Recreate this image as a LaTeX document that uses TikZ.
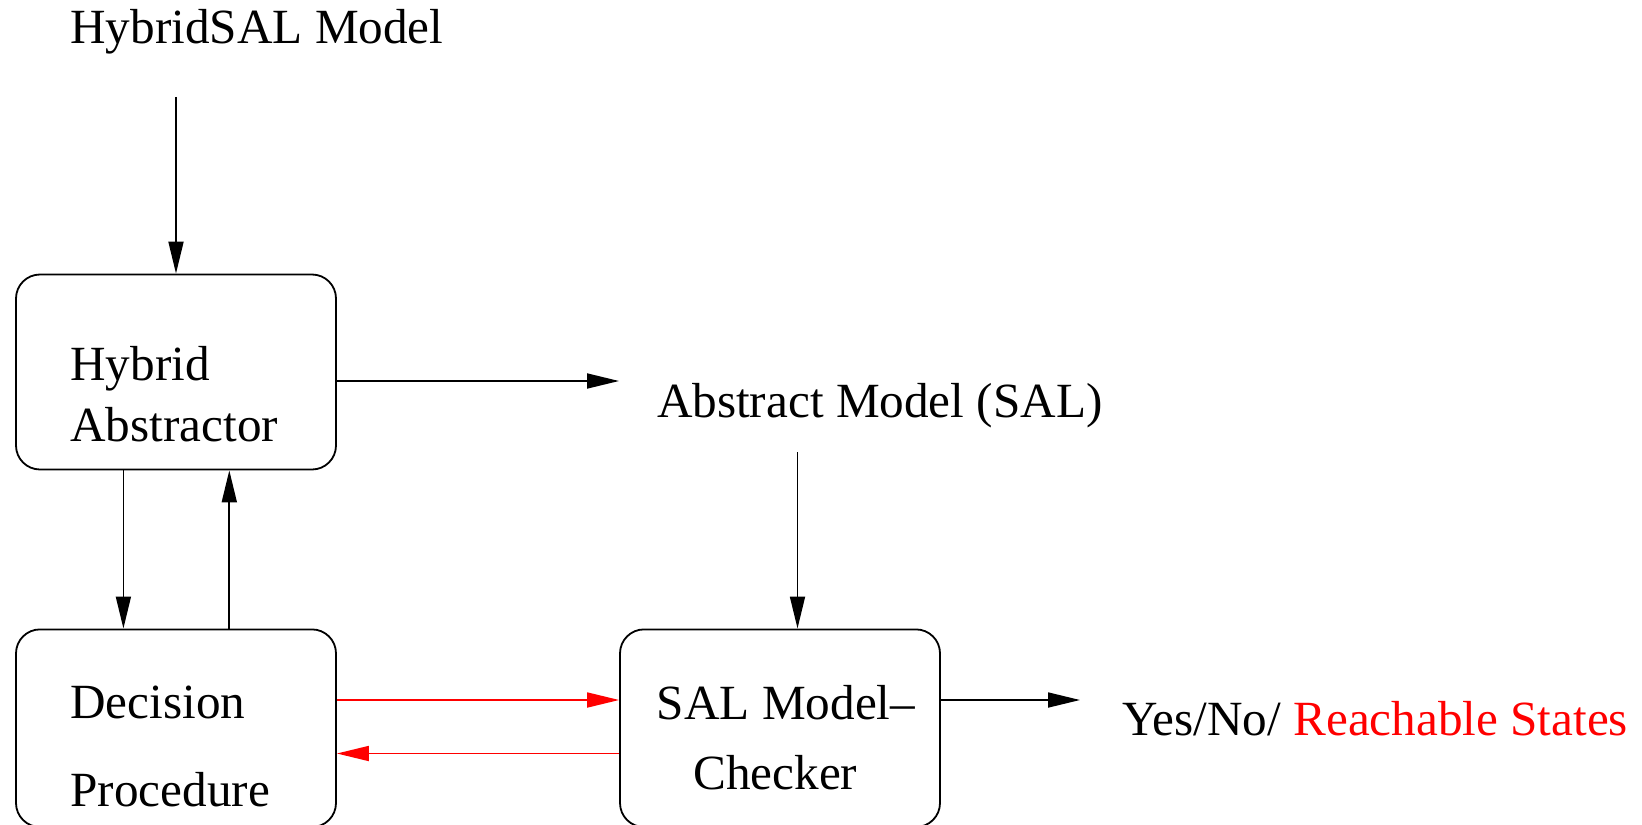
\documentclass[tikz,border=0pt]{standalone}
\usepackage{fontspec}
\setmainfont{Liberation Serif}
\usetikzlibrary{arrows.meta}
\begin{document}
\begin{tikzpicture}[x=0.5pt,y=-0.5pt,
  lw/.style={line width=0.9pt},
  box/.style={draw, lw, rounded corners=12pt, minimum width=160pt, inner sep=0pt},
  txt/.style={anchor=base west, inner sep=0pt, font=\fontsize{24.6pt}{29pt}\selectfont},
  arr/.style={lw, -{Triangle[length=16pt,width=7.5pt]}},
  redarr/.style={arr, red}]
\useasboundingbox (0,0) rectangle (1642,824);

% boxes
\node[box, minimum height=97.5pt] (hyb) at (176,372) {};
\node[box, minimum height=98.8pt] (dec) at (176,728.2) {};
\node[box, minimum height=98.8pt] (sal) at (780,728.2) {};

% texts
\node[txt] (thsal) at (70,44) {HybridSAL Model};
\node[txt] (th1) at (70,380.5) {Hybrid};
\node[txt] (th2) at (70,441.6) {Abstractor};
\node[txt] (tabs) at (656.6,417) {Abstract Model (SAL)};
\node[txt] (td1) at (70,718.6) {Decision};
\node[txt] (td2) at (70,806) {Procedure};
\node[txt] (ts1) at (656.5,719) {SAL Model--};
\node[txt] (ts2) at (693,789.5) {Checker};
\node[txt] (tres) at (1121.6,735) {Yes/No/ \textcolor{red}{Reachable States}};

% helper coordinates
\coordinate (topin) at (176,97);
\coordinate (absout) at (619,381);
\coordinate (absin) at (797.5,452);
\coordinate (resout) at (1080,700);
\coordinate (r1) at (0,700);
\coordinate (r2) at (0,753.5);

% connectors
\draw[arr] (topin) -- (topin |- hyb.north);
\draw[arr] (hyb.east |- absout) -- (absout);
\draw[arr] (123.4,0 |- hyb.south) -- (123.4,0 |- dec.north);
\draw[arr] (229.3,0 |- dec.north) -- (229.3,0 |- hyb.south);
\draw[arr] (absin) -- (absin |- sal.north);
\draw[redarr] (dec.east |- r1) -- (sal.west |- r1);
\draw[redarr] (sal.west |- r2) -- (dec.east |- r2);
\draw[arr] (sal.east |- resout) -- (resout);
\end{tikzpicture}
\end{document}
